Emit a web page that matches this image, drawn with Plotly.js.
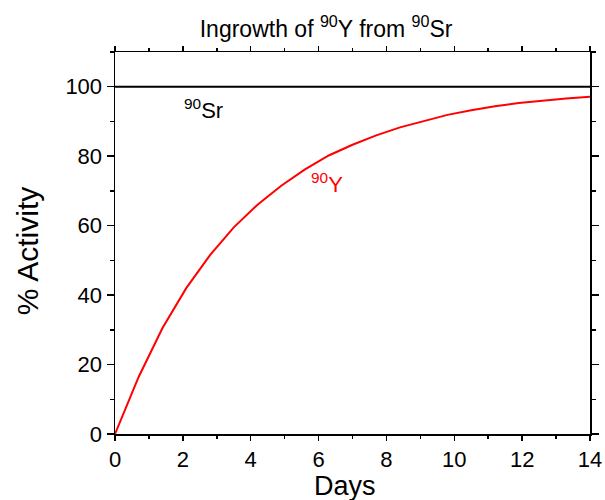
<!DOCTYPE html>
<html>
<head>
<meta charset="utf-8">
<script src="https://cdn.plot.ly/plotly-3.0.1.min.js"></script>
<style>body{margin:0;padding:0;background:#fff;}#chart{width:605px;height:500px;}</style>
</head>
<body>
<div id="chart"></div>
<script>
// Days
var days = [0, 0.7, 1.4, 2.1, 2.8, 3.5, 4.2, 4.9, 5.6, 6.3, 7.0, 7.7, 8.4, 9.1, 9.8, 10.5, 11.2, 11.9, 12.6, 13.3, 14.0];
// % activity of 90Y
var y90 = [0, 16.5, 30.5, 42, 51.5, 59.5, 66, 71.5, 76.2, 80.2, 83.3, 86, 88.3, 90.2, 91.9, 93.2, 94.4, 95.3, 96, 96.6, 97.1];
// % activity of 90Sr
var srDays = [0, 14];
var sr90 = [100, 100];

var xTickVals = [0, 2, 4, 6, 8, 10, 12, 14];
var yTickVals = [0, 20, 40, 60, 80, 100];

var FONT = 'Arial, "Liberation Sans", sans-serif';

var traces = [
  {x: srDays, y: sr90, mode: 'lines', line: {color: '#000000', width: 2}, name: '90Sr', hoverinfo: 'skip'},
  {x: days, y: y90, mode: 'lines', line: {color: '#ff0000', width: 2}, name: '90Y', hoverinfo: 'skip'}
];

var axisCommon = {
  showgrid: false, zeroline: false, showline: true, linecolor: '#000', linewidth: 1.5,
  mirror: 'ticks', ticks: 'outside', ticklen: 7, tickwidth: 1.5, tickcolor: '#000',
  tickfont: {family: FONT, size: 22, color: '#000'},
  minor: {ticks: 'outside', ticklen: 4, tickwidth: 1.5, tickcolor: '#000', showgrid: false}
};

var layout = {
  width: 605, height: 500,
  margin: {l: 115, r: 15, t: 52, b: 66},
  paper_bgcolor: '#fff', plot_bgcolor: '#fff',
  showlegend: false,
  font: {family: FONT, color: '#000'},
  title: {text: 'Ingrowth of <sup>90</sup>Y from <sup>90</sup>Sr', font: {family: FONT, size: 23, color: '#000'},
          x: 0.539, xref: 'container', xanchor: 'center', y: 0.943, yref: 'container', yanchor: 'middle'},
  xaxis: Object.assign({}, axisCommon, {
    range: [0, 14], tickvals: xTickVals, ticktext: xTickVals.map(String), ticklen: 5,
    minor: Object.assign({}, axisCommon.minor, {dtick: 1, tick0: 0, ticklen: 3})
  }),
  yaxis: Object.assign({}, axisCommon, {
    range: [0, 110], tickvals: yTickVals, ticktext: yTickVals.map(String),
    minor: Object.assign({}, axisCommon.minor, {dtick: 10, tick0: 0})
  }),
  annotations: [
    {text: 'Days', xref: 'paper', yref: 'paper', x: 0.484, xanchor: 'center', y: -0.1355, yanchor: 'middle',
     height: 28, valign: 'middle', showarrow: false, borderpad: 0, font: {family: FONT, size: 27, color: '#000'}},
    {text: '% Activity', xref: 'paper', yref: 'paper', x: -0.185, xanchor: 'center', y: 0.479, yanchor: 'middle',
     textangle: -90, showarrow: false, font: {family: FONT, size: 30, color: '#000'}},
    {text: '<sup>90</sup>Sr', xref: 'x', yref: 'y', x: 1.98, xanchor: 'left', y: 93.6, yanchor: 'middle',
     showarrow: false, font: {family: FONT, size: 22, color: '#000'}},
    {text: '<sup>90</sup>Y', xref: 'x', yref: 'y', x: 5.72, xanchor: 'left', y: 72.3, yanchor: 'middle',
     showarrow: false, font: {family: FONT, size: 22, color: '#ff0000'}}
  ]
};

Plotly.newPlot('chart', traces, layout, {displayModeBar: false, staticPlot: true});
</script>
</body>
</html>
